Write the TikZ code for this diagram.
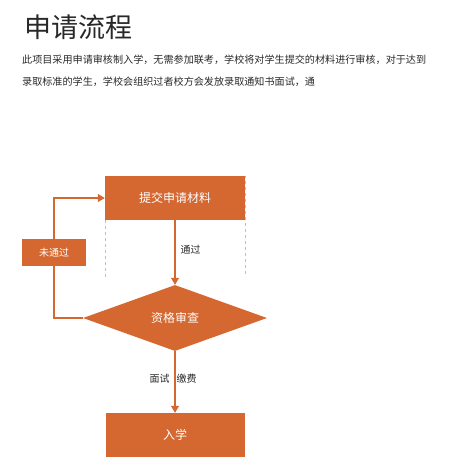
\documentclass[tikz,border=0pt]{standalone}
\usepackage{fontspec}
\setmainfont{Noto Sans CJK SC}
\newfontfamily\cjk{Noto Sans CJK SC}
\usetikzlibrary{shapes.geometric,arrows.meta}
\definecolor{orng}{RGB}{212,104,48}
\definecolor{txtg}{RGB}{40,40,40}
\tikzset{
  fillbox/.style={fill=orng,draw=none,text=white,font=\cjk\fontsize{12}{14}\selectfont,inner sep=0pt},
  flowline/.style={draw=orng,line width=1.1pt},
  flowarrow/.style={flowline,-{Triangle[length=7pt,width=8pt]}},
  lbl/.style={font=\cjk\fontsize{10}{12}\selectfont,text=txtg,inner sep=0pt},
}
\begin{document}
\begin{tikzpicture}[x=1pt,y=-1pt]
\useasboundingbox (0,0) rectangle (450,469);
\node[anchor=west,font=\cjk\fontsize{27}{30}\selectfont,text=txtg,inner sep=0pt] (title) at (24,27) {申请流程};
\node[anchor=west,lbl,font=\cjk\fontsize{10.1}{12}\selectfont] (l1) at (22,60) {此项目采用申请审核制入学，无需参加联考，学校将对学生提交的材料进行审核，对于达到};
\node[anchor=west,lbl,font=\cjk\fontsize{10.1}{12}\selectfont] (l2) at (22,82) {录取标准的学生，学校会组织过者校方会发放录取通知书面试，通};
% dashed frame
\draw[gray!50,dashed,line width=0.6pt] (105,277) -- (105,176) -- (245,176) -- (245,277);
\node[fillbox,minimum width=140pt,minimum height=44pt] (submit) at (175,198) {提交申请材料};
\node[fillbox,diamond,minimum width=184pt,minimum height=66pt,aspect=2.8] (review) at (175,318) {资格审查};
\node[fillbox,minimum width=139pt,minimum height=44pt] (enter) at (175,435) {入学};
\node[fillbox,minimum width=64pt,minimum height=27pt,font=\cjk\fontsize{10}{12}\selectfont] (fail) at (54,252.5) {未通过};
\draw[flowarrow] (submit.south) -- (review.north) node[pos=0.45,right=5pt,lbl] (pass) {通过};
\draw[flowarrow] (review.south) -- (enter.north) node[pos=0.45,lbl,xshift=-2pt] (pay) {面试\hspace{7pt}缴费};
\coordinate (c1) at (54,318);
\coordinate (c2) at (54,198);
\draw[flowline] (review.west) -- (c1) -- (fail.south);
\draw[flowarrow] (fail.north) -- (c2) -- (submit.west);
\end{tikzpicture}
\end{document}
